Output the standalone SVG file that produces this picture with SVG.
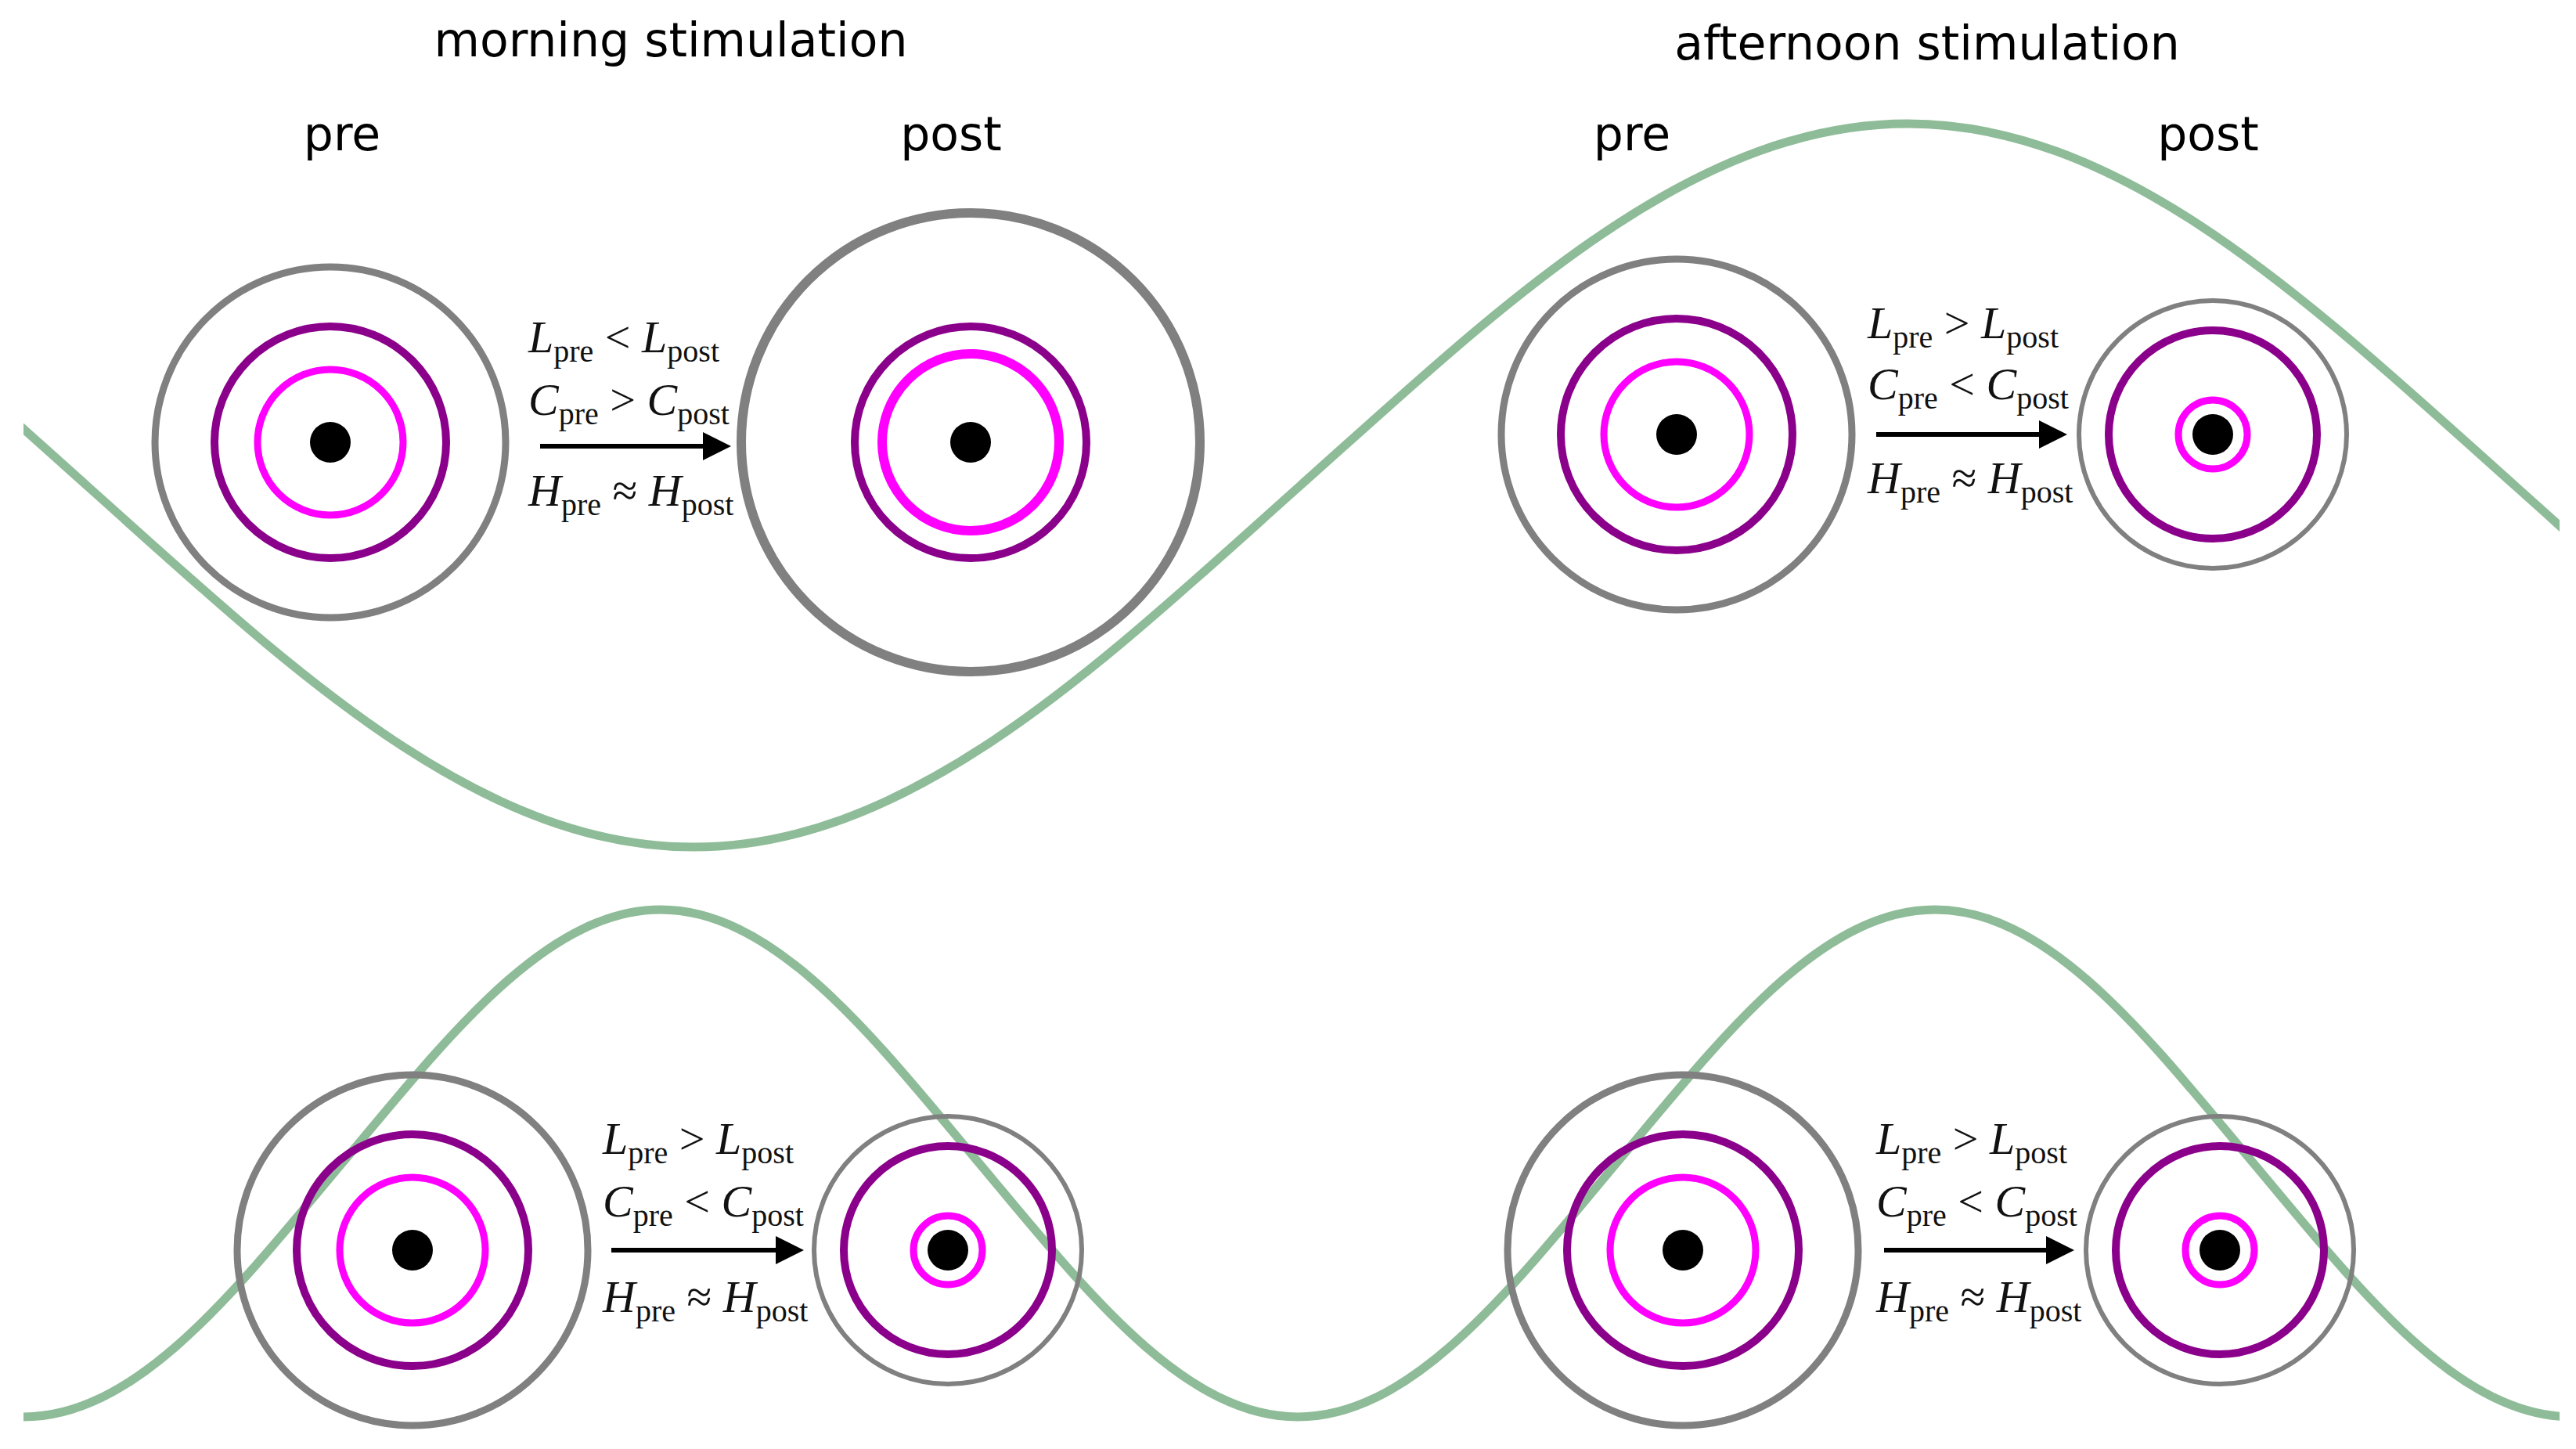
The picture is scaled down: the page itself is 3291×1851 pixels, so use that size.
<svg xmlns="http://www.w3.org/2000/svg" width="3291" height="1851" viewBox="0 0 3291 1851">
<style>
.t{font-family:"DejaVu Sans",sans-serif;font-size:60px;fill:#000;text-anchor:middle}
.m{font-family:"Liberation Serif",serif;font-size:58px;fill:#111}
.m .v{font-style:italic}
.m .s{font-size:40px}
.g{fill:none;stroke:#808080;stroke-width:9}
.p{fill:none;stroke:#8b008b;stroke-width:10}
.k{fill:none;stroke:#ff00ff;stroke-width:9}
.d{fill:#000}
.w{fill:none;stroke:#8fbc98;stroke-width:11}
.a{stroke:#000;stroke-width:6;fill:none}
</style>
<defs>
<marker id="ah" markerWidth="6" markerHeight="6" refX="5" refY="3" orient="auto" markerUnits="strokeWidth"><path d="M0,0 L6,3 L0,6 z" fill="#000"/></marker>
<clipPath id="cp"><rect x="30" y="0" width="3240" height="1851"/></clipPath>
</defs>
<rect width="3291" height="1851" fill="#fff"/>
<g id="waves" clip-path="url(#cp)">
<path class="w" d="M-665,158 C-384.3,158 -142.3,394.5 110.5,620 C363.3,845.5 605.3,1082 886,1082 C1166.7,1082 1408.7,845.5 1661.5,620 C1914.3,394.5 2156.3,158 2437,158 C2717.7,158 2959.7,394.5 3212.5,620 C3465.3,845.5 3707.3,1082 3988,1082"/>
<path class="w" d="M30,1810 C177.3,1810 304.3,1644.2 437,1486 C569.7,1327.8 696.7,1162 844,1162 C991.3,1162 1118.3,1327.8 1251,1486 C1383.7,1644.2 1510.7,1810 1658,1810 C1805.3,1810 1932.3,1644.2 2065,1486 C2197.7,1327.8 2324.7,1162 2472,1162 C2619.3,1162 2746.3,1327.8 2879,1486 C3011.7,1644.2 3138.7,1810 3286,1810"/>
</g>
<g id="labels">
<text class="t" x="857" y="72">morning stimulation</text>
<text class="t" x="2462" y="76">afternoon stimulation</text>
<text class="t" x="437" y="192">pre</text>
<text class="t" x="1215" y="192">post</text>
<text class="t" x="2085" y="192">pre</text>
<text class="t" x="2821" y="192">post</text>
</g>
<g id="m-pre"><circle class="g" cx="422" cy="565" r="224"/><circle class="p" cx="422" cy="565" r="148"/><circle class="k" cx="422" cy="565" r="93"/><circle class="d" cx="422" cy="565" r="26"/></g>
<g id="m-post"><circle class="g" cx="1240" cy="565" r="293" style="stroke-width:12"/><circle class="p" cx="1240" cy="565" r="148"/><circle class="k" cx="1240" cy="565" r="113" style="stroke-width:12"/><circle class="d" cx="1240" cy="565" r="26"/></g>
<g id="a-pre"><circle class="g" cx="2142" cy="555" r="224"/><circle class="p" cx="2142" cy="555" r="148"/><circle class="k" cx="2142" cy="555" r="93"/><circle class="d" cx="2142" cy="555" r="26"/></g>
<g id="a-post"><circle class="g" cx="2827" cy="555" r="171" style="stroke-width:6"/><circle class="p" cx="2827" cy="555" r="133"/><circle class="k" cx="2827" cy="555" r="44"/><circle class="d" cx="2827" cy="555" r="26"/></g>
<g id="bm-pre"><circle class="g" cx="527" cy="1597" r="224"/><circle class="p" cx="527" cy="1597" r="148"/><circle class="k" cx="527" cy="1597" r="93"/><circle class="d" cx="527" cy="1597" r="26"/></g>
<g id="bm-post"><circle class="g" cx="1211" cy="1597" r="171" style="stroke-width:6"/><circle class="p" cx="1211" cy="1597" r="133"/><circle class="k" cx="1211" cy="1597" r="44"/><circle class="d" cx="1211" cy="1597" r="26"/></g>
<g id="ba-pre"><circle class="g" cx="2150" cy="1597" r="224"/><circle class="p" cx="2150" cy="1597" r="148"/><circle class="k" cx="2150" cy="1597" r="93"/><circle class="d" cx="2150" cy="1597" r="26"/></g>
<g id="ba-post"><circle class="g" cx="2836" cy="1597" r="171" style="stroke-width:6"/><circle class="p" cx="2836" cy="1597" r="133"/><circle class="k" cx="2836" cy="1597" r="44"/><circle class="d" cx="2836" cy="1597" r="26"/></g>
<g id="connectors">
<line class="a" x1="690" y1="570" x2="928" y2="570" marker-end="url(#ah)"/>
<line class="a" x1="2397" y1="555" x2="2635" y2="555" marker-end="url(#ah)"/>
<line class="a" x1="781" y1="1597" x2="1021" y2="1597" marker-end="url(#ah)"/>
<line class="a" x1="2407" y1="1597" x2="2644" y2="1597" marker-end="url(#ah)"/>
</g>
<g id="eq-m">
<text class="m" x="675" y="450"><tspan class="v">L</tspan><tspan class="s" dy="12">pre</tspan><tspan dy="-12"> &lt; </tspan><tspan class="v">L</tspan><tspan class="s" dy="12">post</tspan></text>
<text class="m" x="675" y="530"><tspan class="v">C</tspan><tspan class="s" dy="12">pre</tspan><tspan dy="-12"> &gt; </tspan><tspan class="v">C</tspan><tspan class="s" dy="12">post</tspan></text>
<text class="m" x="675" y="646"><tspan class="v">H</tspan><tspan class="s" dy="12">pre</tspan><tspan dy="-12"> ≈ </tspan><tspan class="v">H</tspan><tspan class="s" dy="12">post</tspan></text>
</g>
<g id="eq-a">
<text class="m" x="2386" y="432"><tspan class="v">L</tspan><tspan class="s" dy="12">pre</tspan><tspan dy="-12"> &gt; </tspan><tspan class="v">L</tspan><tspan class="s" dy="12">post</tspan></text>
<text class="m" x="2386" y="510"><tspan class="v">C</tspan><tspan class="s" dy="12">pre</tspan><tspan dy="-12"> &lt; </tspan><tspan class="v">C</tspan><tspan class="s" dy="12">post</tspan></text>
<text class="m" x="2386" y="630"><tspan class="v">H</tspan><tspan class="s" dy="12">pre</tspan><tspan dy="-12"> ≈ </tspan><tspan class="v">H</tspan><tspan class="s" dy="12">post</tspan></text>
</g>
<g id="eq-bm">
<text class="m" x="770" y="1474"><tspan class="v">L</tspan><tspan class="s" dy="12">pre</tspan><tspan dy="-12"> &gt; </tspan><tspan class="v">L</tspan><tspan class="s" dy="12">post</tspan></text>
<text class="m" x="770" y="1554"><tspan class="v">C</tspan><tspan class="s" dy="12">pre</tspan><tspan dy="-12"> &lt; </tspan><tspan class="v">C</tspan><tspan class="s" dy="12">post</tspan></text>
<text class="m" x="770" y="1676"><tspan class="v">H</tspan><tspan class="s" dy="12">pre</tspan><tspan dy="-12"> ≈ </tspan><tspan class="v">H</tspan><tspan class="s" dy="12">post</tspan></text>
</g>
<g id="eq-ba">
<text class="m" x="2397" y="1474"><tspan class="v">L</tspan><tspan class="s" dy="12">pre</tspan><tspan dy="-12"> &gt; </tspan><tspan class="v">L</tspan><tspan class="s" dy="12">post</tspan></text>
<text class="m" x="2397" y="1554"><tspan class="v">C</tspan><tspan class="s" dy="12">pre</tspan><tspan dy="-12"> &lt; </tspan><tspan class="v">C</tspan><tspan class="s" dy="12">post</tspan></text>
<text class="m" x="2397" y="1676"><tspan class="v">H</tspan><tspan class="s" dy="12">pre</tspan><tspan dy="-12"> ≈ </tspan><tspan class="v">H</tspan><tspan class="s" dy="12">post</tspan></text>
</g>
</svg>
